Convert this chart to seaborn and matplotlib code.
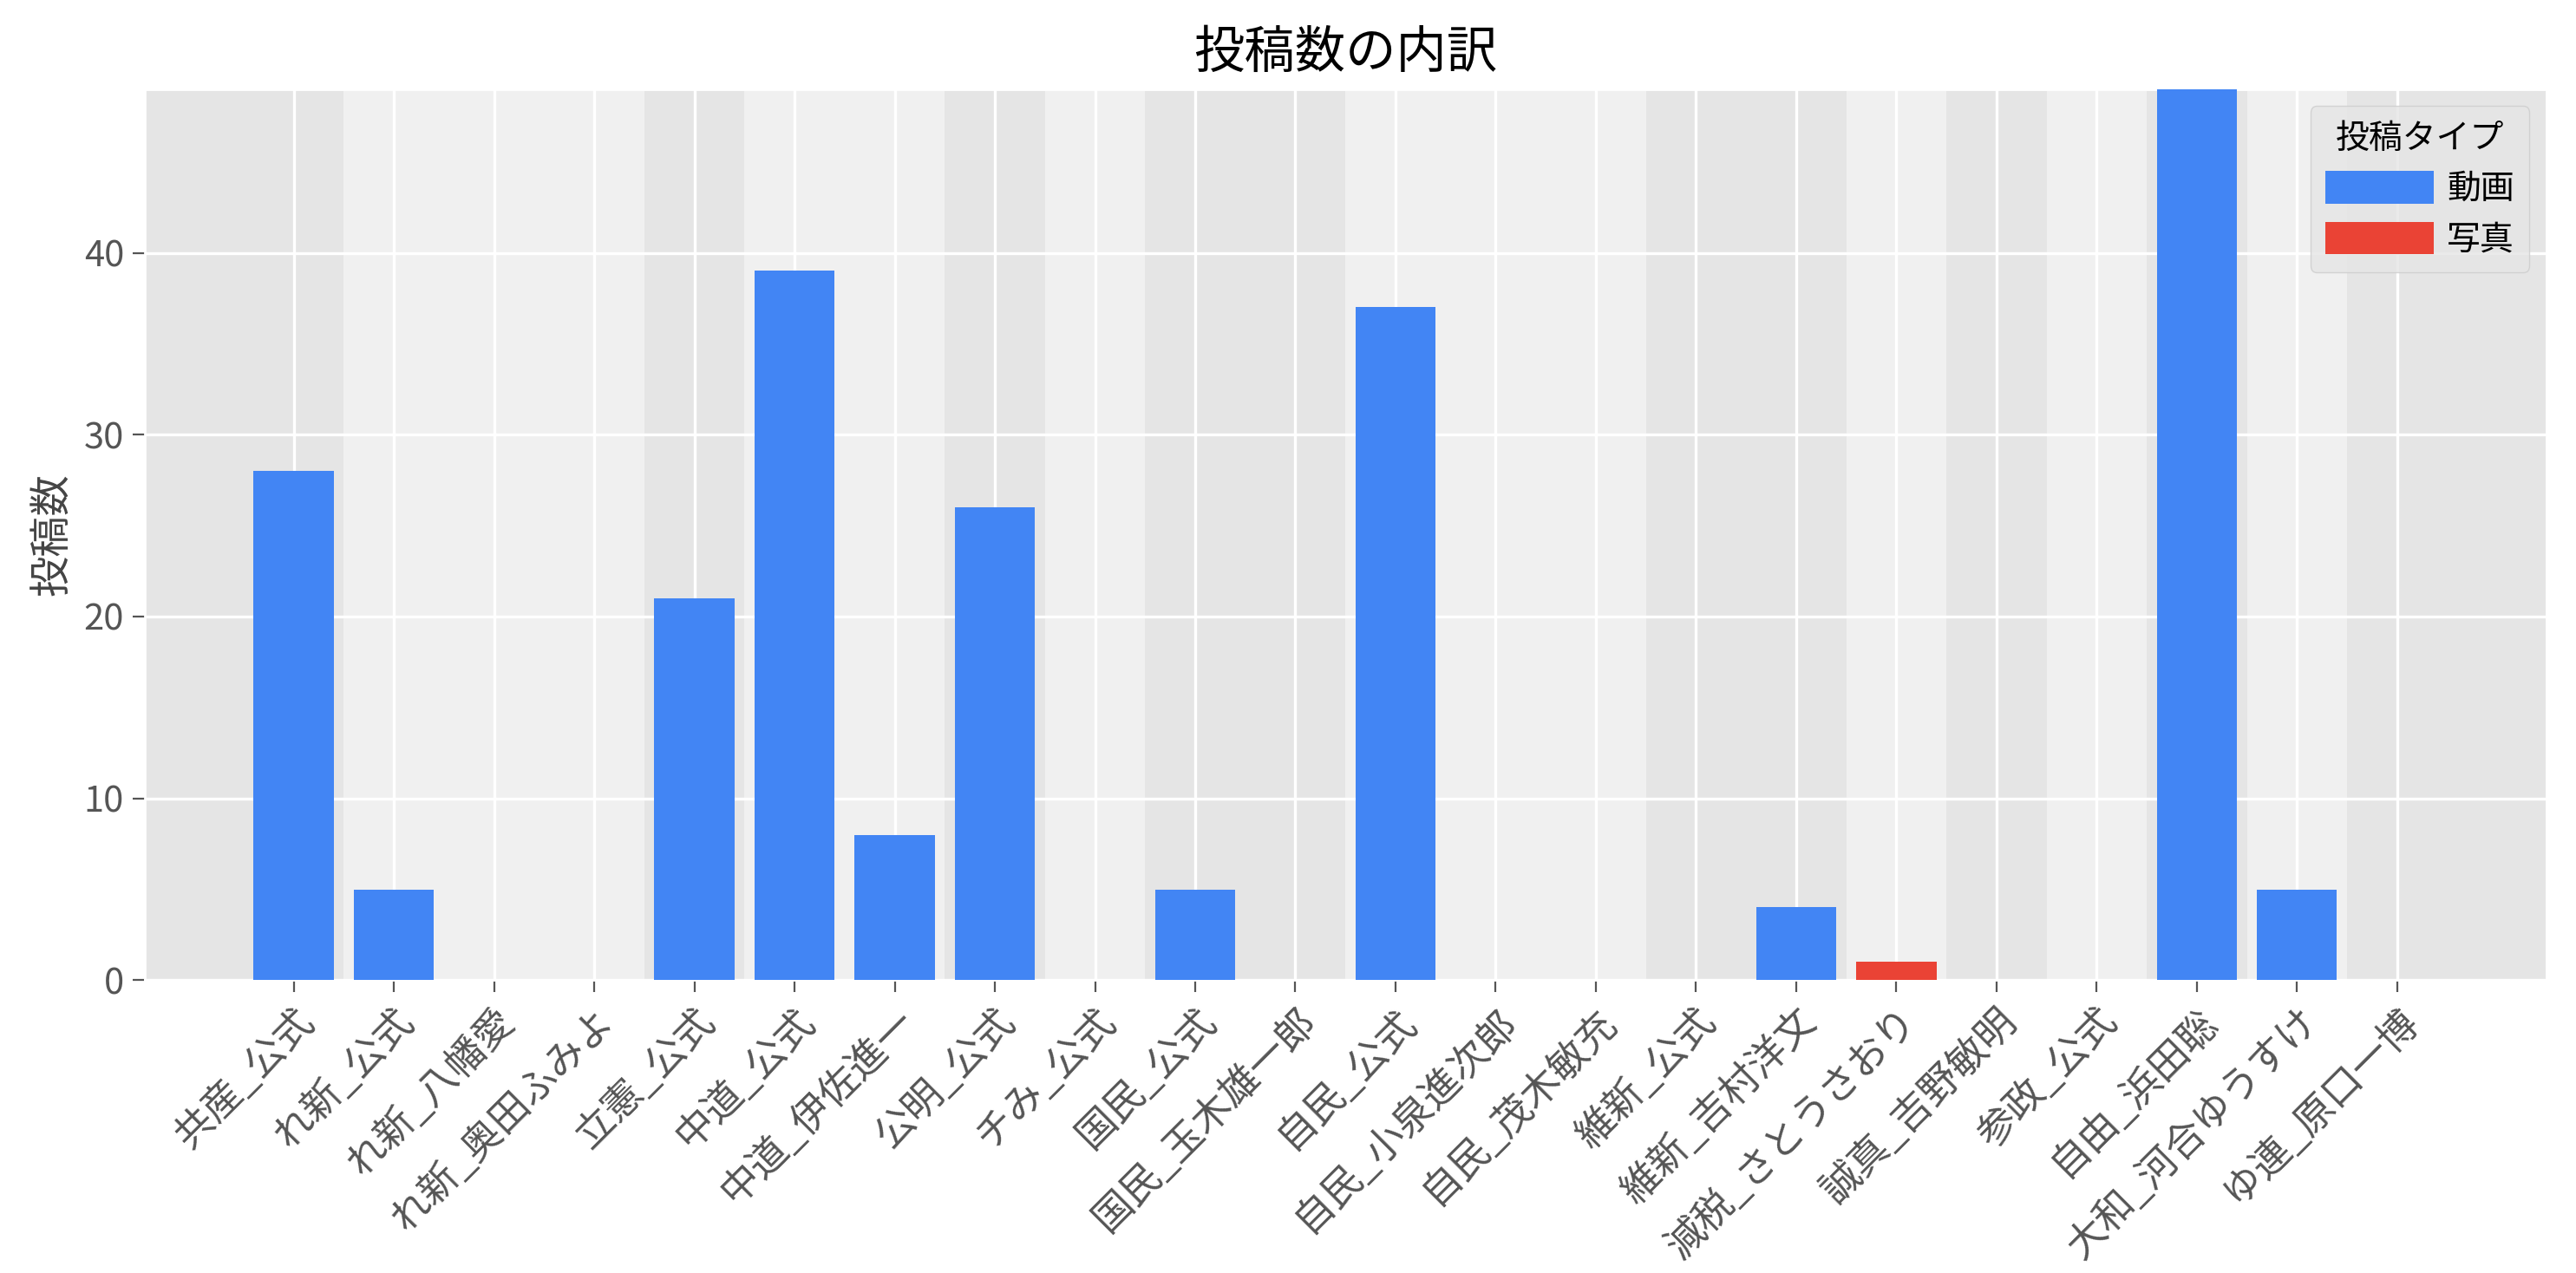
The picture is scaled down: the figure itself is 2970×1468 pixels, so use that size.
import matplotlib
matplotlib.use("Agg")
import matplotlib.pyplot as plt
import seaborn as sns
import pandas as pd

accounts = ["共産_公式", "れ新_公式", "れ新_八幡愛", "れ新_奥田ふみよ", "立憲_公式",
            "中道_公式", "中道_伊佐進一", "公明_公式", "チみ_公式", "国民_公式",
            "国民_玉木雄一郎", "自民_公式", "自民_小泉進次郎", "自民_茂木敏充", "維新_公式",
            "維新_吉村洋文", "減税_さとうさおり", "誠真_吉野敏明", "参政_公式", "自由_浜田聡",
            "大和_河合ゆうすけ", "ゆ連_原口一博"]
video_counts = [28, 5, 0, 0, 21, 39, 8, 26, 0, 5, 0, 37, 0, 0, 0, 4, 0, 0, 0, 49, 5, 0]
photo_counts = [0, 0, 0, 0, 0, 0, 0, 0, 0, 0, 0, 0, 0, 0, 0, 0, 1, 0, 0, 0, 0, 0]
post_types = ["動画", "写真"]
type_colors = {"動画": "#4285F4", "写真": "#EA4335"}

df = pd.DataFrame({
    "account": accounts * 2,
    "count": video_counts + photo_counts,
    "type": [post_types[0]] * len(accounts) + [post_types[1]] * len(accounts),
})

plt.style.use("ggplot")
plt.rcParams["font.family"] = ["Noto Sans CJK JP", "DejaVu Sans"]

fig, ax = plt.subplots(figsize=(14.85, 7.34), dpi=200)
fig.subplots_adjust(left=0.0561, right=0.9885, top=0.930, bottom=0.230)

# alternating party bands
parties = [a.split("_")[0] for a in accounts]
groups = []
for i, p in enumerate(parties):
    if groups and groups[-1][0] == p:
        groups[-1][2] = i
    else:
        groups.append([p, i, i])
for gi, (p, s, e) in enumerate(groups):
    if gi % 2 == 1:
        ax.axvspan(s - 0.5, e + 0.5, color="white", alpha=0.45, lw=0, zorder=0)

sns.barplot(data=df, x="account", y="count", hue="type", order=accounts,
            hue_order=post_types, palette=type_colors, dodge=False, saturation=1,
            width=0.8, linewidth=0, ax=ax, zorder=3, errorbar=None)

n = len(accounts)
ax.set_xlim(-0.4 - 0.05 * (n - 0.2), n - 1 + 0.4 + 0.05 * (n - 0.2))
ax.set_ylim(0, max(max(video_counts), max(photo_counts)))
ax.grid(True, color="white", lw=1.2)
ax.set_axisbelow(True)

ax.set_title("投稿数の内訳", fontsize=21, color="black", pad=9)
ax.set_xlabel("")
ax.set_ylabel("投稿数", fontsize=17, color="#444444")
ax.tick_params(axis="x", labelsize=16.3, colors="#555555", length=5)
ax.tick_params(axis="y", labelsize=15, colors="#555555", length=5)
plt.setp(ax.get_xticklabels(), rotation=45, ha="right", rotation_mode="anchor")

leg = ax.legend(title="投稿タイプ", loc="upper right", fontsize=14, title_fontsize=14,
                handlelength=3.2, handleheight=1.1, handletextpad=0.4,
                borderpad=0.45, borderaxespad=0.5, labelspacing=0.45, frameon=True)
leg.get_frame().set_facecolor("#E5E5E5")
leg.get_frame().set_edgecolor("#cccccc")
for t in leg.get_texts():
    t.set_color("black")
leg.get_title().set_color("black")

fig.savefig("out.png", dpi=200)
